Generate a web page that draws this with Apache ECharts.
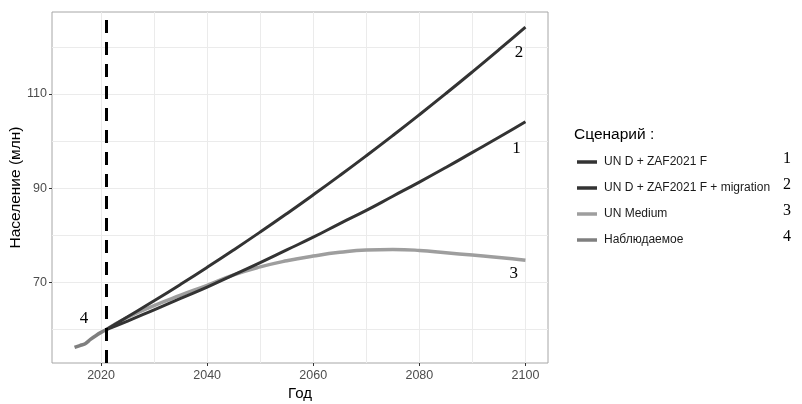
<!DOCTYPE html>
<html>
<head>
<meta charset="utf-8">
<script src="https://cdn.jsdelivr.net/npm/echarts@6/dist/echarts.min.js"></script>
<style>
html,body{margin:0;padding:0;background:#fff;}
#chart{width:802px;height:404px;}
</style>
</head>
<body>
<div id="chart"></div>
<script>
// ---- data ----
const scenarioYears = [2021, 2025, 2030, 2035, 2040, 2045, 2050, 2055, 2060, 2065, 2070, 2075, 2080, 2085, 2090, 2095, 2100];
const scen1 = [60.0, 61.8, 64.2, 66.6, 69.0, 71.6, 74.2, 76.9, 79.6, 82.5, 85.3, 88.3, 91.3, 94.4, 97.6, 100.8, 104.1];
const scen2 = [60.0, 62.7, 66.1, 69.6, 73.2, 76.9, 80.7, 84.6, 88.6, 92.7, 96.9, 101.2, 105.6, 110.1, 114.7, 119.4, 124.2];
const scen3 = [60.0, 62.6, 65.1, 67.3, 69.4, 71.6, 73.3, 74.6, 75.6, 76.4, 76.9, 77.0, 76.8, 76.3, 75.8, 75.3, 74.7];
const obsYears = [2015, 2016, 2017, 2018, 2019, 2020, 2021];
const observed = [56.2, 56.6, 57.0, 57.9, 58.7, 59.4, 60.0];
const seriesNames = ['UN D + ZAF2021 F', 'UN D + ZAF2021 F + migration', 'UN Medium', 'Наблюдаемое'];
const legendNumbers = ['1', '2', '3', '4'];
const xTickLabels = [2020, 2040, 2060, 2080, 2100];
const xGridValues = [2020, 2030, 2040, 2050, 2060, 2070, 2080, 2090, 2100];
const yTickLabels = [70, 90, 110];
const yGridValues = [60, 70, 80, 90, 100, 110, 120];
const cutoffYear = 2021;
// annotation label positions [year, value, text]
const annotations = [[2098.8, 118.7, '2'], [2098.3, 98.5, '1'], [2097.8, 71.9, '3'], [2016.8, 62.3, '4']];

const pairs = (xs, ys) => xs.map((x, i) => [x, ys[i]]);
const serifFont = '"Liberation Serif", "DejaVu Serif", serif';

function annotationMark(idx) {
  const a = annotations[idx];
  return {
    symbol: 'circle', symbolSize: 1, silent: true, z: 6,
    itemStyle: {color: 'rgba(0,0,0,0)'},
    label: {show: true, position: 'inside', formatter: a[2], fontFamily: serifFont, fontSize: 17, color: '#000'},
    data: [{coord: [a[0], a[1]], value: a[2]}]
  };
}

const chart = echarts.init(document.getElementById('chart'), null, {renderer: 'canvas'});
const lineColors = ['#333333', '#333333', '#9e9e9e', '#7f7f7f'];

const option = {
  animation: false,
  backgroundColor: '#ffffff',
  textStyle: {fontFamily: '"Liberation Sans", Arial, sans-serif'},
  grid: {left: 52, right: 254, top: 12, bottom: 41, show: true, borderColor: '#a6a6a6', borderWidth: 1,
         containLabel: false, outerBoundsMode: 'none'},
  title: {
    text: 'Сценарий :', left: 569, top: 122,
    textStyle: {fontSize: 15.5, fontWeight: 'normal', color: '#000', fontFamily: '"Liberation Sans", Arial, sans-serif'}
  },
  legend: {
    orient: 'vertical', left: 572, top: 150,
    icon: 'rect', itemWidth: 20, itemHeight: 3.5, itemGap: 12,
    textStyle: {fontSize: 12, color: '#1a1a1a', lineHeight: 14, padding: [0, 0, 0, 2]},
    data: seriesNames.map((n, i) => ({name: n, itemStyle: {color: lineColors[i]}}))
  },
  xAxis: {
    type: 'value', min: 2010.75, max: 2104.25,
    name: 'Год', nameLocation: 'middle', nameGap: 23, nameMoveOverlap: false,
    nameTextStyle: {fontSize: 15, color: '#000'},
    axisLine: {show: false},
    axisTick: {show: true, length: 3, lineStyle: {color: '#333'}, customValues: xTickLabels},
    axisLabel: {color: '#4d4d4d', fontSize: 12.5, margin: 6, customValues: xTickLabels, formatter: v => String(v)},
    splitLine: {show: false}
  },
  yAxis: {
    type: 'value', min: 52.9, max: 127.4,
    name: 'Население (млн)', nameLocation: 'middle', nameGap: 28, nameRotate: 90, nameMoveOverlap: false,
    nameTextStyle: {fontSize: 15.5, color: '#000'},
    axisLine: {show: false},
    axisTick: {show: true, length: 3, lineStyle: {color: '#333'}, customValues: yTickLabels},
    axisLabel: {color: '#4d4d4d', fontSize: 12.5, margin: 5, customValues: yTickLabels, formatter: v => String(v)},
    splitLine: {show: false}
  },
  graphic: legendNumbers.map((t, i) => ({
    type: 'text', left: 783, top: 151 + i * 26,
    style: {text: t, font: '16px ' + serifFont, fill: '#000'}
  })),
  series: [
    {
      name: '_grid', type: 'line', data: [], silent: true, z: 0,
      markLine: {
        silent: true, symbol: 'none', label: {show: false}, z: 0,
        lineStyle: {color: '#ebebeb', width: 1, type: 'solid'},
        data: xGridValues.map(v => ({xAxis: v})).concat(yGridValues.map(v => ({yAxis: v})))
      }
    },
    {
      name: seriesNames[3], type: 'line', data: pairs(obsYears, observed), showSymbol: false, smooth: 0.3,
      lineStyle: {color: lineColors[3], width: 3.5}, itemStyle: {color: lineColors[3]}, z: 2,
      markPoint: annotationMark(3)
    },
    {
      name: seriesNames[2], type: 'line', data: pairs(scenarioYears, scen3), showSymbol: false, smooth: true,
      lineStyle: {color: lineColors[2], width: 3.5}, itemStyle: {color: lineColors[2]}, z: 2,
      markPoint: annotationMark(2)
    },
    {
      name: seriesNames[0], type: 'line', data: pairs(scenarioYears, scen1), showSymbol: false, smooth: true,
      lineStyle: {color: lineColors[0], width: 3}, itemStyle: {color: lineColors[0]}, z: 3,
      markPoint: annotationMark(1)
    },
    {
      name: seriesNames[1], type: 'line', data: pairs(scenarioYears, scen2), showSymbol: false, smooth: true,
      lineStyle: {color: lineColors[1], width: 3}, itemStyle: {color: lineColors[1]}, z: 3,
      markPoint: annotationMark(0),
      markLine: {
        silent: true, symbol: 'none', label: {show: false}, z: 5,
        lineStyle: {color: '#000', width: 3, type: [13, 9]},
        data: [{xAxis: cutoffYear}]
      }
    }
  ]
};
chart.setOption(option);
</script>
</body>
</html>
